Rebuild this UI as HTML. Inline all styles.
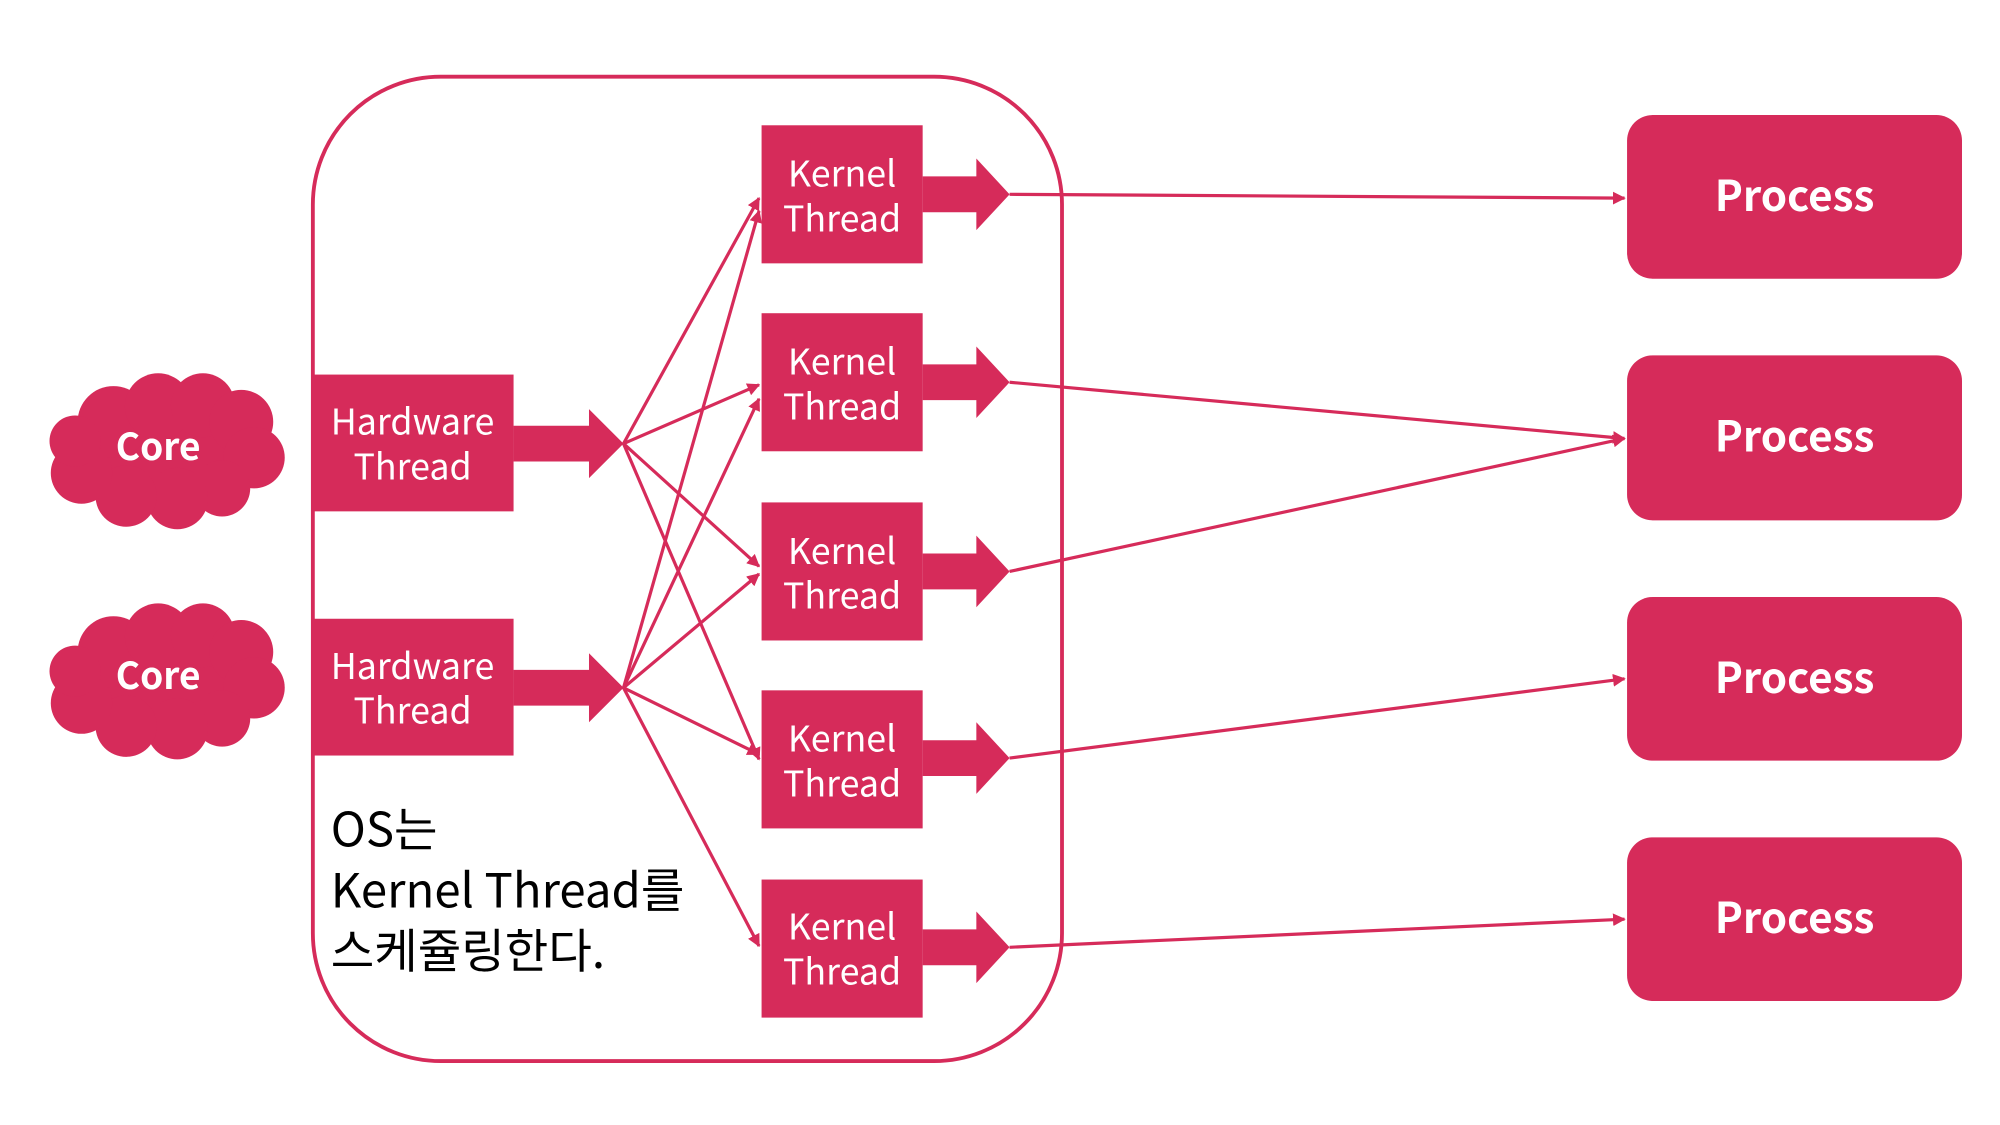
<!DOCTYPE html>
<html><head><meta charset="utf-8"><style>
html,body{margin:0;padding:0;background:#fff;}
svg{display:block;}
text{font-family:"Noto Sans CJK KR","Liberation Sans",sans-serif;}
</style></head><body>
<svg width="2000" height="1125" viewBox="0 0 1563 880" xmlns="http://www.w3.org/2000/svg">
<defs>
<marker id="a" markerWidth="10" markerHeight="10" refX="9" refY="5" orient="auto" markerUnits="userSpaceOnUse" viewBox="0 0 10 10">
<path d="M0,0 L10,5 L0,10 Z" fill="#d62b5a"/>
</marker>
<g id="cloud" fill="#d62b5a">
<ellipse cx="0" cy="0" rx="70" ry="42"/>
<circle cx="-40" cy="-20" r="28"/>
<circle cx="-5" cy="-32" r="26"/>
<circle cx="30" cy="-33" r="25"/>
<circle cx="60" cy="-20" r="25"/>
<circle cx="70" cy="8" r="24"/>
<circle cx="45" cy="32" r="22"/>
<circle cx="10" cy="40" r="24"/>
<circle cx="-30" cy="38" r="24"/>
<circle cx="-65" cy="20" r="24"/>
<circle cx="-70" cy="-5" r="20"/>
</g>
</defs>
<rect x="244" y="60" width="586" height="770" rx="100" ry="100" fill="none" stroke="#d62b5a" stroke-width="3"/>

<use href="#cloud" x="128" y="350"/>
<use href="#cloud" x="128" y="530"/>
<text x="123" y="360" fill="#fff" font-size="29" font-weight="bold" text-anchor="middle">Core</text>
<text x="123" y="539" fill="#fff" font-size="29" font-weight="bold" text-anchor="middle">Core</text>

<g fill="#d62b5a">
<rect x="244" y="293" width="157" height="107"/>
<rect x="244" y="484" width="157" height="107"/>
<path d="M401,333 H460 V320 L487,347 L460,374 V361 H401 Z"/>
<path d="M401,524 H460 V511 L487,538 L460,565 V552 H401 Z"/>
<rect x="595" y="98" width="126" height="108"/>
<rect x="595" y="245" width="126" height="108"/>
<rect x="595" y="393" width="126" height="108"/>
<rect x="595" y="540" width="126" height="108"/>
<rect x="595" y="688" width="126" height="108"/>
<path d="M721,138 H763 V124 L789,152 L763,180 V166 H721 Z"/>
<path d="M721,285 H763 V271 L789,299 L763,327 V313 H721 Z"/>
<path d="M721,433 H763 V419 L789,447 L763,475 V461 H721 Z"/>
<path d="M721,579 H763 V565 L789,593 L763,621 V607 H721 Z"/>
<path d="M721,727 H763 V713 L789,741 L763,769 V755 H721 Z"/>
<rect x="1272" y="90" width="262" height="128" rx="20"/>
<rect x="1272" y="278" width="262" height="129" rx="20"/>
<rect x="1272" y="467" width="262" height="128" rx="20"/>
<rect x="1272" y="655" width="262" height="128" rx="20"/>
</g>

<g fill="#fff" font-size="28" text-anchor="middle">
<text x="322" y="340">Hardware</text><text x="322" y="375">Thread</text>
<text x="322" y="531">Hardware</text><text x="322" y="566">Thread</text>
<text x="658" y="146">Kernel</text><text x="658" y="181">Thread</text>
<text x="658" y="293">Kernel</text><text x="658" y="328">Thread</text>
<text x="658" y="441">Kernel</text><text x="658" y="476">Thread</text>
<text x="658" y="588">Kernel</text><text x="658" y="623">Thread</text>
<text x="658" y="735">Kernel</text><text x="658" y="770">Thread</text>
</g>
<g fill="#fff" font-size="33" font-weight="bold" text-anchor="middle">
<text x="1403" y="165">Process</text>
<text x="1403" y="353">Process</text>
<text x="1403" y="542">Process</text>
<text x="1403" y="730">Process</text>
</g>

<g stroke="#d62b5a" stroke-width="2.5" fill="none" marker-end="url(#a)">
<line x1="487" y1="347" x2="593" y2="155"/>
<line x1="487" y1="347" x2="593" y2="301"/>
<line x1="487" y1="347" x2="593" y2="443"/>
<line x1="487" y1="347" x2="593" y2="594"/>
<line x1="487" y1="538" x2="593" y2="165"/>
<line x1="487" y1="538" x2="593" y2="312"/>
<line x1="487" y1="538" x2="593" y2="449"/>
<line x1="487" y1="538" x2="593" y2="590"/>
<line x1="487" y1="538" x2="593" y2="740"/>
<line x1="789" y1="152" x2="1270" y2="155"/>
<line x1="789" y1="299" x2="1270" y2="343"/>
<line x1="789" y1="447" x2="1270" y2="343"/>
<line x1="789" y1="593" x2="1270" y2="531"/>
<line x1="789" y1="741" x2="1270" y2="719"/>
</g>

<g fill="#000" font-size="37">
<text x="258" y="662">OS는</text>
<text x="258" y="710">Kernel Thread를</text>
<text x="258" y="757">스케쥴링한다.</text>
</g>
</svg>
</body></html>
